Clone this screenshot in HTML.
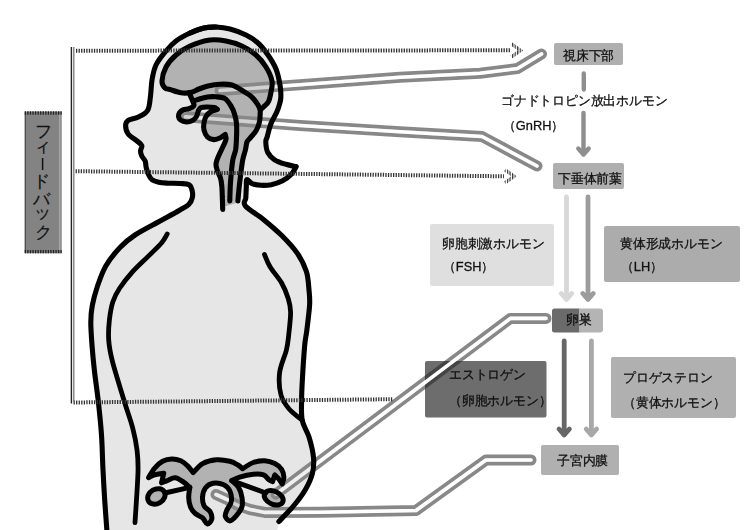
<!DOCTYPE html><html><head><meta charset="utf-8"><style>
html,body{margin:0;padding:0;background:#fff;width:750px;height:530px;overflow:hidden;position:relative;font-family:"Liberation Sans",sans-serif;}
.t{position:absolute;white-space:nowrap;color:#111;line-height:1;-webkit-text-stroke:0.3px #111;transform:scaleX(0.985);transform-origin:0 0;}
.v{position:absolute;font-size:17px;line-height:1;color:#111;-webkit-text-stroke:0.2px #111;}
</style></head><body>
<svg width="750" height="530" viewBox="0 0 750 530" style="position:absolute;left:0;top:0">
<defs><pattern id="dots" width="2.56" height="4" patternUnits="userSpaceOnUse"><rect x="0" y="0" width="1.3" height="4" fill="#333"/></pattern>
<mask id="tm" maskUnits="userSpaceOnUse" x="0" y="0" width="750" height="530"><rect width="750" height="530" fill="#fff"/>
<path d="M220.0 90.5 L300.0 84.8 L400.0 77.2 L480.0 73.3 L517.5 68.5 L541.5 54.0" fill="none" stroke="#000" stroke-width="3.6" stroke-linecap="round" stroke-linejoin="round"/>
<path d="M185.5 116.8 L300.0 125.5 L400.0 131.8 L482.0 136.5 L537.0 166.0" fill="none" stroke="#000" stroke-width="3.6" stroke-linecap="round" stroke-linejoin="round"/>
<path d="M276.0 494.2 L510.4 318.4 L546.0 318.4" fill="none" stroke="#000" stroke-width="3.6" stroke-linecap="round" stroke-linejoin="round"/>
<path d="M216.0 494.5 L226.0 499.0 L237.0 505.0 L250.0 509.5 L265.0 512.4 L320.0 512.2 L416.0 510.5 L486.0 460.0 L531.0 460.0" fill="none" stroke="#000" stroke-width="3.6" stroke-linecap="round" stroke-linejoin="round"/>
</mask><clipPath id="boxclip"><rect x="425" y="361" width="121.5" height="56.5"/></clipPath></defs>
<rect x="554.0" y="43.0" width="69.0" height="22.0" rx="2" fill="#afafaf"/>
<rect x="553.0" y="163.0" width="71.0" height="26.0" rx="2" fill="#afafaf"/>
<rect x="430.0" y="224.0" width="124.0" height="62.0" rx="2" fill="#dfdfdf"/>
<rect x="604.0" y="226.0" width="136.0" height="56.0" rx="2" fill="#acacac"/>
<rect x="425.0" y="361.0" width="121.5" height="56.5" rx="2" fill="#6d6d6d"/>
<rect x="611.0" y="357.0" width="125.0" height="61.0" rx="2" fill="#b0b0b0"/>
<rect x="541.0" y="445.0" width="78.0" height="30.0" rx="2" fill="#b0b0b0"/>
<path d="M579.5 308.5 H554.5 Q552 308.5 552 311 V330 Q552 332.5 554.5 332.5 H579.5 Z" fill="#6b6b6b"/><path d="M579.5 308.5 H600 Q603 308.5 603 311.5 V329.5 Q603 332.5 600 332.5 H579.5 Z" fill="#b4b4b4"/>
<rect x="24.7" y="111.5" width="37" height="141.8" fill="#838383"/>
<path d="M25.3 113 V252" stroke="#444" stroke-width="1"/><path d="M59.8 114 V250" stroke="#bbb" stroke-width="0.9"/>
<path d="M24.7 113 H61.7 M24.7 251.6 H61.7" stroke="#222" stroke-width="3.4" stroke-dasharray="1.3 1.26"/>
<path d="M42.6 158 V170" stroke="#111" stroke-width="1.5"/>
<path d="M71.4 47 V403.5" stroke="#222" stroke-width="1.4" fill="none"/><path d="M73.8 47 V401" stroke="#777" stroke-width="1.3" fill="none"/>
<path d="M583.8 73.5 V89.5" stroke="#8e8e8e" stroke-width="4.4" stroke-linecap="round"/>
<path d="M583.5 113.0 V154.5 M578.3 148.5 L583.5 154.5 L588.7 148.5" stroke="#8e8e8e" stroke-width="4.4" fill="none" stroke-linecap="round" stroke-linejoin="round"/>
<path d="M566.5 197.0 V299.5 M561.3 293.5 L566.5 299.5 L571.7 293.5" stroke="#d8d8d8" stroke-width="4.8" fill="none" stroke-linecap="round" stroke-linejoin="round"/>
<path d="M588.0 197.0 V299.5 M582.8 293.5 L588.0 299.5 L593.2 293.5" stroke="#9c9c9c" stroke-width="4.8" fill="none" stroke-linecap="round" stroke-linejoin="round"/>
<path d="M564.2 341.0 V435.0 M559.0 429.0 L564.2 435.0 L569.4 429.0" stroke="#666666" stroke-width="4.8" fill="none" stroke-linecap="round" stroke-linejoin="round"/>
<path d="M591.4 341.0 V435.0 M586.2 429.0 L591.4 435.0 L596.6 429.0" stroke="#a8a8a8" stroke-width="4.8" fill="none" stroke-linecap="round" stroke-linejoin="round"/>
<path d="M216.0 27.0 C211.7 26.8 208.3 27.0 204.0 28.0 C199.7 29.0 194.7 30.8 190.0 33.0 C185.3 35.2 180.0 38.0 176.0 41.0 C172.0 44.0 169.3 47.0 166.0 51.0 C162.7 55.0 158.3 60.2 156.0 65.0 C153.7 69.8 152.9 74.8 152.0 80.0 C151.1 85.2 151.2 91.0 150.5 96.0 C149.8 101.0 149.7 106.7 147.7 110.2 C145.7 113.7 141.7 115.3 138.4 117.0 C135.2 118.7 130.3 119.0 128.2 120.4 C126.1 121.8 125.6 123.2 125.6 125.5 C125.6 127.8 126.3 131.5 128.2 134.0 C130.0 136.5 134.4 138.8 136.7 140.7 C139.0 142.6 141.2 143.8 141.8 145.5 C142.4 147.2 140.5 149.2 140.5 151.0 C140.5 152.8 141.0 154.3 141.8 156.0 C142.6 157.7 144.4 159.1 145.2 161.1 C145.9 163.1 145.7 165.7 146.3 168.0 C146.9 170.3 147.7 172.7 148.6 174.7 C149.5 176.7 150.3 178.5 152.0 179.8 C153.7 181.1 156.0 181.7 158.7 182.3 C161.4 182.9 164.4 183.0 168.0 183.2 C171.6 183.4 176.5 183.2 180.0 183.5 C183.5 183.8 187.0 183.7 189.0 184.8 C191.0 185.9 191.4 187.8 192.0 190.0 C192.6 192.2 192.9 195.3 192.3 197.7 C191.8 200.1 190.8 202.4 188.7 204.5 C186.6 206.6 184.5 207.4 179.6 210.2 C174.7 213.0 166.6 217.4 159.2 221.5 C151.8 225.6 141.5 230.7 135.0 235.0 C128.5 239.3 124.9 242.3 120.0 247.5 C115.1 252.7 109.6 259.4 105.8 266.0 C102.0 272.6 99.5 280.4 97.2 287.0 C95.0 293.6 93.4 299.7 92.3 305.5 C91.2 311.3 90.8 315.4 90.8 322.0 C90.8 328.6 91.4 337.1 92.0 345.0 C92.6 352.9 93.2 360.2 94.3 369.6 C95.3 379.0 97.1 390.4 98.3 401.3 C99.5 412.2 100.7 423.6 101.5 435.0 C102.3 446.4 102.4 458.7 103.0 470.0 C103.6 481.3 104.2 492.7 104.9 503.0 C105.6 513.3 106.7 527.2 107.0 532.0 C135.3 532.0 248.7 532.0 277.0 532.0 C277.3 530.2 278.6 523.2 278.9 521.5 C281.5 518.8 289.9 510.4 294.3 505.0 C298.8 499.6 302.6 494.5 305.6 489.2 C308.6 483.9 311.1 478.6 312.4 473.3 C313.7 468.0 314.1 463.5 313.5 457.5 C312.9 451.5 310.9 443.3 309.0 437.1 C307.1 430.9 303.4 426.4 302.2 420.2 C301.0 414.0 301.6 406.8 301.6 400.0 C301.6 393.2 301.9 388.3 302.4 379.2 C302.9 370.1 304.0 353.4 304.7 345.3 C305.4 337.2 306.0 337.3 306.8 330.6 C307.6 323.9 309.2 311.8 309.6 305.0 C310.0 298.2 309.5 295.6 309.0 290.0 C308.5 284.4 308.3 277.6 306.4 271.5 C304.5 265.4 301.5 259.4 297.4 253.4 C293.2 247.4 287.2 241.0 281.5 235.3 C275.8 229.6 269.4 224.3 263.4 219.4 C257.4 214.5 248.2 209.4 245.3 205.8 C242.4 202.2 245.6 201.0 245.8 198.0 C246.0 195.0 246.1 190.7 246.3 187.6 C246.5 184.5 245.9 180.2 246.8 179.5 C247.8 178.8 249.6 182.6 252.0 183.6 C254.4 184.6 257.8 185.1 261.0 185.3 C264.2 185.5 267.6 185.4 271.2 184.7 C274.8 183.9 279.2 182.6 282.6 180.8 C286.0 179.0 289.3 176.4 291.6 174.0 C293.9 171.6 295.4 167.8 296.2 166.6 C294.5 166.2 289.6 165.4 286.0 164.3 C282.4 163.2 277.6 161.8 274.6 159.8 C271.6 157.8 269.3 155.5 267.8 152.5 C266.3 149.5 265.9 144.7 265.8 142.0 C265.7 139.3 266.5 139.5 267.3 136.5 C268.1 133.5 269.3 128.0 270.8 124.0 C272.3 120.0 275.1 115.6 276.5 112.6 C277.9 109.6 278.3 108.4 279.0 106.0 C279.7 103.6 280.6 101.5 280.8 98.0 C281.0 94.5 280.8 89.8 280.0 85.0 C279.2 80.2 278.0 74.0 276.0 69.0 C274.0 64.0 271.0 59.3 268.0 55.0 C265.0 50.7 261.7 46.3 258.0 43.0 C254.3 39.7 250.7 37.3 246.0 35.0 C241.3 32.7 235.0 30.3 230.0 29.0 C225.0 27.7 220.3 27.2 216.0 27.0Z" fill="#e6e6e6"/>
<path d="M189.0 92.6 C189.2 92.6 188.8 93.1 190.5 92.5 C192.2 91.9 196.1 90.1 199.0 89.0 C201.9 87.9 204.5 86.8 208.0 86.0 C211.5 85.2 216.0 84.4 220.0 84.2 C224.0 84.0 228.4 84.0 232.0 85.0 C235.6 86.0 238.1 88.0 241.4 90.0 C244.7 92.0 248.9 94.3 251.6 96.8 C254.3 99.2 256.4 102.5 257.8 104.7 C259.2 106.9 259.9 109.1 260.3 110.0 C260.2 112.0 260.2 118.2 259.5 121.7 C258.8 125.2 257.6 128.2 256.1 130.8 C254.6 133.5 252.0 135.7 250.5 137.6 C249.0 139.5 247.8 139.9 247.0 142.0 C246.2 144.1 246.2 146.8 245.4 150.0 C244.7 153.2 243.4 155.8 242.5 161.2 C241.6 166.6 240.4 175.6 239.7 182.5 C238.9 189.4 238.3 199.2 238.0 202.5 C235.6 203.2 225.8 206.2 223.4 207.0 C223.2 205.3 222.6 200.5 222.3 197.0 C222.0 193.5 222.1 189.2 221.8 186.0 C221.5 182.8 221.2 180.5 220.5 178.0 C219.8 175.5 218.2 173.3 217.5 171.0 C216.8 168.7 215.8 166.7 216.0 164.0 C216.2 161.3 217.8 157.9 219.0 155.0 C220.2 152.1 221.8 149.1 223.0 146.5 C224.2 143.9 225.6 141.6 226.0 139.6 C226.4 137.6 225.3 135.3 225.2 134.4 C224.4 134.9 222.4 136.8 220.5 137.7 C218.6 138.6 216.1 139.8 213.9 139.6 C211.7 139.4 209.0 138.4 207.3 136.8 C205.7 135.2 204.6 132.6 204.0 130.2 C203.4 127.8 203.6 125.0 204.0 122.6 C204.4 120.2 205.1 117.9 206.3 116.0 C207.6 114.1 209.7 112.4 211.5 111.3 C213.3 110.2 216.4 109.7 217.4 109.4 C216.9 109.1 216.2 108.0 214.5 107.6 C212.8 107.2 209.6 107.0 207.3 107.0 C205.1 107.0 202.5 106.9 201.0 107.6 C199.5 108.3 199.1 109.5 198.3 111.0 C197.6 112.5 197.5 114.9 196.5 116.5 C195.5 118.1 194.2 119.6 192.5 120.5 C190.8 121.4 188.5 122.1 186.5 122.0 C184.5 121.9 181.8 120.9 180.5 120.0 C179.2 119.1 178.7 117.7 178.5 116.5 C178.3 115.3 178.6 114.1 179.3 113.0 C180.1 111.9 181.4 110.5 183.0 109.8 C184.6 109.1 187.2 109.3 189.0 108.6 C190.8 107.9 193.0 106.3 193.8 105.8 C193.7 105.2 194.0 104.4 193.2 102.2 C192.4 100.0 189.7 94.2 189.0 92.6Z" fill="#b2b2b2"/>
<path d="M170.0 89.5 C172.7 90.3 177.6 92.3 181.0 92.8 C184.4 93.3 187.5 93.1 190.5 92.5 C193.5 91.9 196.1 90.1 199.0 89.0 C201.9 87.9 204.5 86.8 208.0 86.0 C211.5 85.2 216.0 84.4 220.0 84.2 C224.0 84.0 228.4 84.0 232.0 85.0 C235.6 86.0 238.1 88.0 241.4 90.0 C244.7 92.0 248.9 94.3 251.6 96.8 C254.3 99.2 256.4 102.5 257.8 104.7 C259.2 106.9 259.9 109.1 260.3 110.0 C261.0 109.3 263.1 107.5 264.5 106.0 C265.9 104.5 267.5 103.6 268.6 101.3 C269.7 99.0 270.4 95.4 271.0 92.0 C271.6 88.6 272.8 85.2 272.0 81.0 C271.2 76.8 268.7 71.3 266.0 67.0 C263.3 62.7 260.0 58.5 256.0 55.0 C252.0 51.5 247.0 48.3 242.0 46.0 C237.0 43.7 231.3 42.0 226.0 41.0 C220.7 40.0 216.0 39.2 210.0 40.0 C204.0 40.8 195.7 43.5 190.0 46.0 C184.3 48.5 180.0 51.5 176.0 55.0 C172.0 58.5 168.3 62.7 166.0 67.0 C163.7 71.3 162.2 77.5 162.0 81.0 C161.8 84.5 163.7 86.6 165.0 88.0 C166.3 89.4 167.3 88.7 170.0 89.5Z" fill="#b2b2b2"/>
<path d="M148.5 477.7 C149.5 476.1 152.3 470.8 154.7 468.1 C157.0 465.4 159.8 462.8 162.6 461.3 C165.4 459.8 168.7 459.1 171.7 459.0 C174.7 458.9 178.2 459.7 180.8 460.8 C183.5 461.9 185.5 463.9 187.6 465.9 C189.7 467.9 192.3 471.5 193.2 472.6 C194.8 471.1 198.8 465.7 202.6 463.6 C206.4 461.5 211.7 460.2 216.2 459.8 C220.7 459.4 226.2 460.4 229.8 461.3 C233.4 462.2 235.9 463.8 238.0 465.0 C240.1 466.2 241.8 468.1 242.6 468.7 C244.4 467.7 249.6 463.8 253.3 462.5 C257.0 461.2 261.0 460.6 264.6 460.8 C268.2 461.0 272.0 462.2 274.8 463.6 C277.6 465.0 280.1 467.0 281.6 469.3 C283.1 471.6 283.8 474.8 283.9 477.2 C284.0 479.6 282.5 482.9 282.2 484.0 C281.5 483.1 279.4 479.8 278.2 478.3 C277.0 476.8 275.4 475.5 274.8 474.9 C274.4 476.0 273.0 480.6 272.6 481.7 C271.9 481.3 270.1 480.5 268.6 479.4 C267.1 478.3 266.1 475.8 263.5 474.9 C260.9 474.0 257.3 473.9 253.3 474.3 C249.3 474.7 243.3 476.1 239.7 477.2 C236.1 478.2 233.1 480.0 231.8 480.6 C232.9 481.7 236.9 484.6 238.6 487.4 C240.3 490.2 241.5 494.3 242.0 497.6 C242.5 500.9 242.8 504.2 241.8 507.3 C240.8 510.4 237.8 514.1 235.8 516.4 C233.8 518.7 231.6 520.9 229.8 520.9 C228.1 520.9 225.8 518.2 225.3 516.4 C224.8 514.6 225.8 512.8 226.8 510.3 C227.8 507.8 230.8 504.6 231.3 501.3 C231.8 498.0 231.1 493.5 229.8 490.7 C228.5 487.9 226.5 485.9 223.7 484.7 C220.9 483.4 216.2 482.7 213.2 483.2 C210.2 483.7 207.4 485.4 205.6 487.7 C203.8 490.0 202.8 493.8 202.6 496.8 C202.3 499.8 202.8 503.3 204.1 505.8 C205.4 508.3 208.9 509.5 210.2 511.8 C211.5 514.1 212.2 517.4 211.7 519.4 C211.2 521.4 208.7 524.1 207.2 523.9 C205.7 523.6 204.6 519.6 202.6 517.9 C200.6 516.1 197.1 515.2 195.1 513.4 C193.1 511.6 191.7 509.9 190.6 507.3 C189.5 504.7 188.8 500.9 188.7 497.6 C188.6 494.3 189.6 489.1 189.8 487.4 C188.7 486.4 185.4 483.3 183.0 481.7 C180.6 480.1 177.7 477.9 175.1 477.7 C172.5 477.5 169.5 479.8 167.2 480.6 C164.9 481.5 162.4 482.4 161.5 482.8 C161.9 481.2 163.4 474.8 163.8 473.2 C162.3 473.5 157.2 474.1 154.7 474.9 C152.1 475.6 149.5 477.2 148.5 477.7Z" fill="#b2b2b2"/>
<ellipse cx="156.4" cy="496.4" rx="9.2" ry="7.2" transform="rotate(-30.0 156.4 496.4)" fill="#b2b2b2"/>
<ellipse cx="273.7" cy="497.8" rx="10.0" ry="6.5" transform="rotate(25.0 273.7 497.8)" fill="#b2b2b2"/>
<g mask="url(#tm)">
<path d="M220.0 90.5 L300.0 84.8 L400.0 77.2 L480.0 73.3 L517.5 68.5 L541.5 54.0" fill="none" stroke="#888888" stroke-width="11.0" stroke-linecap="round" stroke-linejoin="round"/>
<path d="M185.5 116.8 L300.0 125.5 L400.0 131.8 L482.0 136.5 L537.0 166.0" fill="none" stroke="#888888" stroke-width="11.0" stroke-linecap="round" stroke-linejoin="round"/>
<path d="M276.0 494.2 L510.4 318.4 L546.0 318.4" fill="none" stroke="#888888" stroke-width="11.0" stroke-linecap="round" stroke-linejoin="round"/>
<path d="M216.0 494.5 L226.0 499.0 L237.0 505.0 L250.0 509.5 L265.0 512.4 L320.0 512.2 L416.0 510.5 L486.0 460.0 L531.0 460.0" fill="none" stroke="#888888" stroke-width="11.0" stroke-linecap="round" stroke-linejoin="round"/>
</g>
<path d="M220.0 90.5 L300.0 84.8 L400.0 77.2 L480.0 73.3 L517.5 68.5 L541.5 54.0" fill="none" stroke="#fff" stroke-opacity="0.4" stroke-width="3.6" stroke-linecap="round" stroke-linejoin="round"/>
<path d="M185.5 116.8 L300.0 125.5 L400.0 131.8 L482.0 136.5 L537.0 166.0" fill="none" stroke="#fff" stroke-opacity="0.4" stroke-width="3.6" stroke-linecap="round" stroke-linejoin="round"/>
<path d="M276.0 494.2 L510.4 318.4 L546.0 318.4" fill="none" stroke="#fff" stroke-opacity="0.4" stroke-width="3.6" stroke-linecap="round" stroke-linejoin="round"/>
<path d="M216.0 494.5 L226.0 499.0 L237.0 505.0 L250.0 509.5 L265.0 512.4 L320.0 512.2 L416.0 510.5 L486.0 460.0 L531.0 460.0" fill="none" stroke="#fff" stroke-opacity="0.4" stroke-width="3.6" stroke-linecap="round" stroke-linejoin="round"/>
<g clip-path="url(#boxclip)"><path d="M276.0 494.2 L510.4 318.4 L546.0 318.4" fill="none" stroke="#444" stroke-width="11.0" stroke-linecap="round" stroke-linejoin="round"/><path d="M276.0 494.2 L510.4 318.4 L546.0 318.4" fill="none" stroke="#fff" stroke-width="3.6" stroke-linecap="round" stroke-linejoin="round"/></g>
<path d="M170.0 89.5 C172.7 90.3 177.6 92.3 181.0 92.8 C184.4 93.3 187.5 93.1 190.5 92.5 C193.5 91.9 196.1 90.1 199.0 89.0 C201.9 87.9 204.5 86.8 208.0 86.0 C211.5 85.2 216.0 84.4 220.0 84.2 C224.0 84.0 228.4 84.0 232.0 85.0 C235.6 86.0 238.1 88.0 241.4 90.0 C244.7 92.0 248.9 94.3 251.6 96.8 C254.3 99.2 256.4 102.5 257.8 104.7 C259.2 106.9 259.9 109.1 260.3 110.0 C261.0 109.3 263.1 107.5 264.5 106.0 C265.9 104.5 267.5 103.6 268.6 101.3 C269.7 99.0 270.4 95.4 271.0 92.0 C271.6 88.6 272.8 85.2 272.0 81.0 C271.2 76.8 268.7 71.3 266.0 67.0 C263.3 62.7 260.0 58.5 256.0 55.0 C252.0 51.5 247.0 48.3 242.0 46.0 C237.0 43.7 231.3 42.0 226.0 41.0 C220.7 40.0 216.0 39.2 210.0 40.0 C204.0 40.8 195.7 43.5 190.0 46.0 C184.3 48.5 180.0 51.5 176.0 55.0 C172.0 58.5 168.3 62.7 166.0 67.0 C163.7 71.3 162.2 77.5 162.0 81.0 C161.8 84.5 163.7 86.6 165.0 88.0 C166.3 89.4 167.3 88.7 170.0 89.5Z" fill="none" stroke="#000" stroke-linecap="round" stroke-linejoin="round" stroke-width="5.1"/>
<path d="M216.0 27.0 C214.0 27.2 208.3 27.0 204.0 28.0 C199.7 29.0 194.7 30.8 190.0 33.0 C185.3 35.2 180.0 38.0 176.0 41.0 C172.0 44.0 169.3 47.0 166.0 51.0 C162.7 55.0 158.3 60.2 156.0 65.0 C153.7 69.8 152.9 74.8 152.0 80.0 C151.1 85.2 151.2 91.0 150.5 96.0 C149.8 101.0 149.7 106.7 147.7 110.2 C145.7 113.7 141.7 115.3 138.4 117.0 C135.2 118.7 130.3 119.0 128.2 120.4 C126.1 121.8 125.6 123.2 125.6 125.5 C125.6 127.8 126.3 131.5 128.2 134.0 C130.0 136.5 134.4 138.8 136.7 140.7 C139.0 142.6 141.2 143.8 141.8 145.5 C142.4 147.2 140.5 149.2 140.5 151.0 C140.5 152.8 141.0 154.3 141.8 156.0 C142.6 157.7 144.4 159.1 145.2 161.1 C145.9 163.1 145.7 165.7 146.3 168.0 C146.9 170.3 147.7 172.7 148.6 174.7 C149.5 176.7 150.3 178.5 152.0 179.8 C153.7 181.1 156.0 181.7 158.7 182.3 C161.4 182.9 164.4 183.0 168.0 183.2 C171.6 183.4 176.5 183.2 180.0 183.5 C183.5 183.8 187.0 183.7 189.0 184.8 C191.0 185.9 191.4 187.8 192.0 190.0 C192.6 192.2 192.9 195.3 192.3 197.7 C191.8 200.1 190.8 202.4 188.7 204.5 C186.6 206.6 184.5 207.4 179.6 210.2 C174.7 213.0 166.6 217.4 159.2 221.5 C151.8 225.6 141.5 230.7 135.0 235.0 C128.5 239.3 124.9 242.3 120.0 247.5 C115.1 252.7 109.6 259.4 105.8 266.0 C102.0 272.6 99.5 280.4 97.2 287.0 C95.0 293.6 93.4 299.7 92.3 305.5 C91.2 311.3 90.8 315.4 90.8 322.0 C90.8 328.6 91.4 337.1 92.0 345.0 C92.6 352.9 93.2 360.2 94.3 369.6 C95.3 379.0 97.1 390.4 98.3 401.3 C99.5 412.2 100.7 423.6 101.5 435.0 C102.3 446.4 102.4 458.7 103.0 470.0 C103.6 481.3 104.2 492.7 104.9 503.0 C105.6 513.3 106.7 527.2 107.0 532.0" fill="none" stroke="#000" stroke-linecap="round" stroke-linejoin="round" stroke-width="5.1"/>
<path d="M278.9 521.5 C281.5 518.8 289.9 510.4 294.3 505.0 C298.8 499.6 302.6 494.5 305.6 489.2 C308.6 483.9 311.1 478.6 312.4 473.3 C313.7 468.0 314.1 463.5 313.5 457.5 C312.9 451.5 310.9 443.3 309.0 437.1 C307.1 430.9 303.4 426.4 302.2 420.2 C301.0 414.0 301.6 406.8 301.6 400.0 C301.6 393.2 301.9 388.3 302.4 379.2 C302.9 370.1 304.0 353.4 304.7 345.3 C305.4 337.2 306.0 337.3 306.8 330.6 C307.6 323.9 309.2 311.8 309.6 305.0 C310.0 298.2 309.5 295.6 309.0 290.0 C308.5 284.4 308.3 277.6 306.4 271.5 C304.5 265.4 301.5 259.4 297.4 253.4 C293.2 247.4 287.2 241.0 281.5 235.3 C275.8 229.6 269.4 224.3 263.4 219.4 C257.4 214.5 248.2 209.4 245.3 205.8 C242.4 202.2 245.6 201.0 245.8 198.0 C246.0 195.0 246.1 190.7 246.3 187.6 C246.5 184.5 245.9 180.2 246.8 179.5 C247.8 178.8 249.6 182.6 252.0 183.6 C254.4 184.6 257.8 185.1 261.0 185.3 C264.2 185.5 267.6 185.4 271.2 184.7 C274.8 183.9 279.2 182.6 282.6 180.8 C286.0 179.0 289.3 176.4 291.6 174.0 C293.9 171.6 295.4 167.8 296.2 166.6 C294.5 166.2 289.6 165.4 286.0 164.3 C282.4 163.2 277.6 161.8 274.6 159.8 C271.6 157.8 269.3 155.5 267.8 152.5 C266.3 149.5 265.9 144.7 265.8 142.0 C265.7 139.3 266.5 139.5 267.3 136.5 C268.1 133.5 269.3 128.0 270.8 124.0 C272.3 120.0 275.1 115.6 276.5 112.6 C277.9 109.6 278.3 108.4 279.0 106.0 C279.7 103.6 280.6 101.5 280.8 98.0 C281.0 94.5 280.8 89.8 280.0 85.0 C279.2 80.2 278.0 74.0 276.0 69.0 C274.0 64.0 271.0 59.3 268.0 55.0 C265.0 50.7 261.7 46.3 258.0 43.0 C254.3 39.7 250.7 37.3 246.0 35.0 C241.3 32.7 235.0 30.3 230.0 29.0 C225.0 27.7 220.3 27.2 216.0 27.0 C211.7 26.8 208.3 27.0 204.0 28.0 C199.7 29.0 192.3 32.2 190.0 33.0" fill="none" stroke="#000" stroke-linecap="round" stroke-linejoin="round" stroke-width="5.1"/>
<path d="M189.0 92.6 C189.7 94.2 192.4 100.0 193.2 102.2 C194.0 104.4 194.5 104.7 193.8 105.8 C193.1 106.9 190.8 107.9 189.0 108.6 C187.2 109.3 184.6 109.1 183.0 109.8 C181.4 110.5 180.1 111.9 179.3 113.0 C178.6 114.1 178.3 115.3 178.5 116.5 C178.7 117.7 179.2 119.1 180.5 120.0 C181.8 120.9 184.5 121.9 186.5 122.0 C188.5 122.1 190.8 121.4 192.5 120.5 C194.2 119.6 195.5 118.1 196.5 116.5 C197.5 114.9 197.6 112.5 198.3 111.0 C199.1 109.5 199.5 108.3 201.0 107.6 C202.5 106.9 205.1 107.0 207.3 107.0 C209.6 107.0 212.8 107.2 214.5 107.6 C216.2 108.0 216.9 109.1 217.4 109.4 C216.4 109.7 213.3 110.2 211.5 111.3 C209.7 112.4 207.6 114.1 206.3 116.0 C205.1 117.9 204.4 120.2 204.0 122.6 C203.6 125.0 203.4 127.8 204.0 130.2 C204.6 132.6 205.7 135.2 207.3 136.8 C209.0 138.4 211.7 139.4 213.9 139.6 C216.1 139.8 218.6 138.6 220.5 137.7 C222.4 136.8 224.4 134.9 225.2 134.4 C225.3 135.3 226.4 137.6 226.0 139.6 C225.6 141.6 224.2 143.9 223.0 146.5 C221.8 149.1 220.2 152.1 219.0 155.0 C217.8 157.9 216.2 161.3 216.0 164.0 C215.8 166.7 216.8 168.7 217.5 171.0 C218.2 173.3 219.8 175.5 220.5 178.0 C221.2 180.5 221.5 182.8 221.8 186.0 C222.1 189.2 222.2 193.1 222.3 197.0 C222.5 200.9 222.6 207.3 222.7 209.4" fill="none" stroke="#000" stroke-linecap="round" stroke-linejoin="round" stroke-width="5.1"/>
<path d="M193.2 101.0 C194.0 100.8 195.7 100.2 198.0 99.5 C200.3 98.8 204.0 97.5 207.0 97.1 C210.0 96.6 213.0 96.5 216.0 96.8 C219.0 97.0 222.5 97.1 225.0 98.6 C227.5 100.1 229.2 103.1 230.8 105.7 C232.4 108.3 233.7 111.2 234.6 114.2 C235.5 117.2 236.2 119.7 236.5 123.6 C236.8 127.5 236.7 133.3 236.5 137.7 C236.3 142.1 236.2 146.1 235.6 150.0 C234.9 153.9 233.4 155.8 232.6 161.2 C231.8 166.6 231.0 175.9 230.5 182.5 C230.0 189.1 229.9 197.8 229.8 200.9" fill="none" stroke="#000" stroke-linecap="round" stroke-linejoin="round" stroke-width="5.1"/>
<path d="M260.3 110.0 C260.2 112.0 260.2 118.2 259.5 121.7 C258.8 125.2 257.6 128.2 256.1 130.8 C254.6 133.5 252.0 135.7 250.5 137.6 C249.0 139.5 247.8 139.9 247.0 142.0 C246.2 144.1 246.2 146.8 245.4 150.0 C244.7 153.2 243.4 155.8 242.5 161.2 C241.6 166.6 240.5 175.9 239.7 182.5 C238.9 189.1 238.2 197.8 237.9 200.9" fill="none" stroke="#000" stroke-linecap="round" stroke-linejoin="round" stroke-width="5.1"/>
<path d="M167.2 234.0 C166.2 235.5 164.7 239.2 161.5 243.0 C158.3 246.8 152.8 251.7 147.9 256.6 C143.0 261.5 136.7 267.1 132.0 272.4 C127.3 277.7 122.8 283.4 119.6 288.3 C116.4 293.2 114.5 296.6 112.8 301.9 C111.1 307.2 110.1 313.6 109.4 320.0 C108.7 326.4 108.2 333.1 108.7 340.0 C109.2 346.9 109.9 351.5 112.5 361.7 C115.1 371.9 121.0 390.3 124.3 401.3 C127.6 412.3 130.5 419.6 132.6 427.7 C134.7 435.8 136.1 442.6 137.0 450.0 C137.9 457.4 138.3 459.8 138.0 471.9 C137.7 484.0 135.5 514.2 135.0 522.7" fill="none" stroke="#000" stroke-linecap="round" stroke-linejoin="round" stroke-width="4.8"/>
<path d="M264.5 254.5 C265.4 256.6 267.4 262.3 270.2 267.0 C273.0 271.7 278.5 277.5 281.5 282.8 C284.5 288.1 286.8 293.8 288.3 298.7 C289.8 303.6 290.5 305.9 290.6 312.0 C290.7 318.1 289.4 328.7 288.7 335.0 C288.0 341.3 287.9 343.7 286.4 350.0 C284.9 356.3 280.5 365.1 279.6 372.6 C278.7 380.1 279.4 389.0 281.0 395.0 C282.6 401.0 285.4 404.5 288.9 408.7 C292.4 412.9 300.0 418.3 302.2 420.2" fill="none" stroke="#000" stroke-linecap="round" stroke-linejoin="round" stroke-width="4.8"/>
<path d="M164.9 493 L189.8 487.4 M231.8 480.6 L265.8 493" fill="none" stroke="#000" stroke-linecap="round" stroke-linejoin="round" stroke-width="5.0"/>
<path d="M148.5 477.7 C149.5 476.1 152.3 470.8 154.7 468.1 C157.0 465.4 159.8 462.8 162.6 461.3 C165.4 459.8 168.7 459.1 171.7 459.0 C174.7 458.9 178.2 459.7 180.8 460.8 C183.5 461.9 185.5 463.9 187.6 465.9 C189.7 467.9 192.3 471.5 193.2 472.6 C194.8 471.1 198.8 465.7 202.6 463.6 C206.4 461.5 211.7 460.2 216.2 459.8 C220.7 459.4 226.2 460.4 229.8 461.3 C233.4 462.2 235.9 463.8 238.0 465.0 C240.1 466.2 241.8 468.1 242.6 468.7 C244.4 467.7 249.6 463.8 253.3 462.5 C257.0 461.2 261.0 460.6 264.6 460.8 C268.2 461.0 272.0 462.2 274.8 463.6 C277.6 465.0 280.1 467.0 281.6 469.3 C283.1 471.6 283.8 474.8 283.9 477.2 C284.0 479.6 282.5 482.9 282.2 484.0 C281.5 483.1 279.4 479.8 278.2 478.3 C277.0 476.8 275.4 475.5 274.8 474.9 C274.4 476.0 273.0 480.6 272.6 481.7 C271.9 481.3 270.1 480.5 268.6 479.4 C267.1 478.3 266.1 475.8 263.5 474.9 C260.9 474.0 257.3 473.9 253.3 474.3 C249.3 474.7 243.3 476.1 239.7 477.2 C236.1 478.2 233.1 480.0 231.8 480.6 C232.9 481.7 236.9 484.6 238.6 487.4 C240.3 490.2 241.5 494.3 242.0 497.6 C242.5 500.9 242.8 504.2 241.8 507.3 C240.8 510.4 237.8 514.1 235.8 516.4 C233.8 518.7 231.6 520.9 229.8 520.9 C228.1 520.9 225.8 518.2 225.3 516.4 C224.8 514.6 225.8 512.8 226.8 510.3 C227.8 507.8 230.8 504.6 231.3 501.3 C231.8 498.0 231.1 493.5 229.8 490.7 C228.5 487.9 226.5 485.9 223.7 484.7 C220.9 483.4 216.2 482.7 213.2 483.2 C210.2 483.7 207.4 485.4 205.6 487.7 C203.8 490.0 202.8 493.8 202.6 496.8 C202.3 499.8 202.8 503.3 204.1 505.8 C205.4 508.3 208.9 509.5 210.2 511.8 C211.5 514.1 212.2 517.4 211.7 519.4 C211.2 521.4 208.7 524.1 207.2 523.9 C205.7 523.6 204.6 519.6 202.6 517.9 C200.6 516.1 197.1 515.2 195.1 513.4 C193.1 511.6 191.7 509.9 190.6 507.3 C189.5 504.7 188.8 500.9 188.7 497.6 C188.6 494.3 189.6 489.1 189.8 487.4 C188.7 486.4 185.4 483.3 183.0 481.7 C180.6 480.1 177.7 477.9 175.1 477.7 C172.5 477.5 169.5 479.8 167.2 480.6 C164.9 481.5 162.4 482.4 161.5 482.8 C161.9 481.2 163.4 474.8 163.8 473.2 C162.3 473.5 157.2 474.1 154.7 474.9 C152.1 475.6 149.5 477.2 148.5 477.7Z" fill="none" stroke="#000" stroke-linecap="round" stroke-linejoin="round" stroke-width="5.0"/>
<ellipse cx="156.4" cy="496.4" rx="9.2" ry="7.2" transform="rotate(-30.0 156.4 496.4)" fill="none" stroke="#000" stroke-linecap="round" stroke-linejoin="round" stroke-width="5.0"/>
<ellipse cx="273.7" cy="497.8" rx="10.0" ry="6.5" transform="rotate(25.0 273.7 497.8)" fill="none" stroke="#000" stroke-linecap="round" stroke-linejoin="round" stroke-width="5.0"/>
<path d="M76.0 50.7 L510.0 50.3" stroke="#333" stroke-width="4" stroke-dasharray="1.3 1.26"/>
<path d="M75.6 171.2 L504.0 176.3" stroke="#333" stroke-width="4" stroke-dasharray="1.3 1.26"/>
<path d="M73.5 402.5 L393.0 399.2" stroke="#333" stroke-width="4" stroke-dasharray="1.3 1.26"/>
<path d="M511.5 43.9 L520.5 50.4 L511.5 56.9" fill="none" stroke="url(#dots)" stroke-width="3.4"/>
<path d="M505.0 169.8 L514.0 176.3 L505.0 182.8" fill="none" stroke="url(#dots)" stroke-width="3.4"/>
</svg>
<div class="t" style="left:563.0px;top:48.5px;font-size:13px">視床下部</div>
<div class="t" style="left:500.8px;top:93.5px;font-size:13px">ゴナドトロピン放出ホルモン</div>
<div class="t" style="left:502.5px;top:118.5px;font-size:13px">（GnRH）</div>
<div class="t" style="left:557.5px;top:172.0px;font-size:13px">下垂体前葉</div>
<div class="t" style="left:442.0px;top:236.5px;font-size:13px">卵胞刺激ホルモン</div>
<div class="t" style="left:443.2px;top:259.5px;font-size:13px">（FSH）</div>
<div class="t" style="left:620.0px;top:236.5px;font-size:13px">黄体形成ホルモン</div>
<div class="t" style="left:621.0px;top:259.5px;font-size:13px">（LH）</div>
<div class="t" style="left:565.5px;top:312.5px;font-size:13px">卵巣</div>
<div class="t" style="left:449.0px;top:368.0px;font-size:13px">エストロゲン</div>
<div class="t" style="left:448.5px;top:393.5px;font-size:13px">（卵胞ホルモン）</div>
<div class="t" style="left:623.0px;top:370.5px;font-size:13px">プロゲステロン</div>
<div class="t" style="left:622.5px;top:395.5px;font-size:13px">（黄体ホルモン）</div>
<div class="t" style="left:557.0px;top:453.5px;font-size:13px">子宮内膜</div>
<div class="v" style="left:34.6px;top:123.4px">フ</div>
<div class="v" style="left:34.4px;top:137.6px">ィ</div>
<div class="v" style="left:33.3px;top:172.5px">ド</div>
<div class="v" style="left:33.1px;top:190.5px">バ</div>
<div class="v" style="left:33.9px;top:204.3px">ッ</div>
<div class="v" style="left:34.8px;top:224.1px">ク</div>
</body></html>
